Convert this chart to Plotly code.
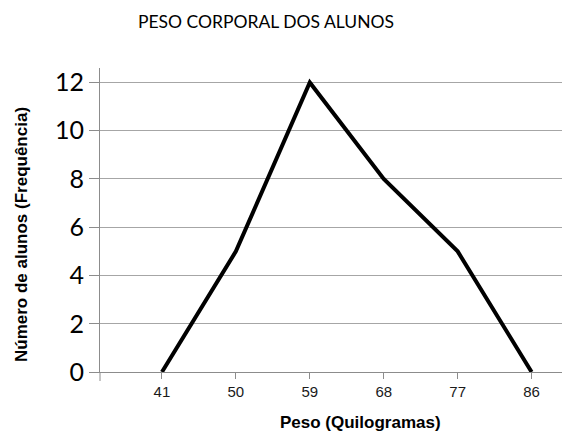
import plotly.graph_objects as go

pesos = [41, 50, 59, 68, 77, 86]
frequencias = [0, 5, 12, 8, 5, 0]
y_ticks = [0, 2, 4, 6, 8, 10, 12]
titulo = "PESO CORPORAL DOS ALUNOS"
titulo_x = "Peso (Quilogramas)"
titulo_y = "Número de alunos (Frequência)"

W, H = 563, 431
ml, mr, mt, mb = 100, 1, 68, 59
PW, PH = W - ml - mr, H - mt - mb

fig = go.Figure()
fig.add_trace(go.Scatter(x=pesos, y=frequencias, mode="lines",
                         line=dict(color="black", width=4), showlegend=False,
                         cliponaxis=False))

fig.update_layout(
    width=W, height=H,
    margin=dict(l=ml, r=mr, t=mt, b=mb),
    paper_bgcolor="white", plot_bgcolor="white",
    font=dict(family="Liberation Sans, Arial", color="black"),
)
fig.update_xaxes(
    range=[33.46, 89.7], tickvals=pesos, ticktext=[str(p) for p in pesos],
    showgrid=False, zeroline=False, showline=True, linecolor="#8c8c8c", linewidth=1,
    ticks="outside", ticklen=6, tickcolor="#8c8c8c",
    tickfont=dict(family="Liberation Sans, Arial", size=15, color="#1a1a1a"),
)
fig.update_yaxes(
    range=[0, 12.6], tickvals=y_ticks,
    showgrid=True, gridcolor="#a6a6a6", gridwidth=1, zeroline=False,
    showline=True, linecolor="#8c8c8c", linewidth=1,
    ticks="outside", ticklen=10, tickcolor="#8c8c8c",
    tickfont=dict(family="Lato, Open Sans", size=25, color="black"),
)
# y axis line extending slightly below the x axis
fig.add_shape(type="line", xref="paper", yref="paper", x0=0, x1=0,
              y0=0, y1=-9 / PH, line=dict(color="#8c8c8c", width=1))
fig.add_annotation(text=titulo, xref="paper", yref="paper",
                   x=(266 - ml) / PW, y=1 + (mt - 22) / PH,
                   xanchor="center", yanchor="middle",
                   showarrow=False, font=dict(family="Lato", size=17.5, color="black"))
fig.add_annotation(text="<b>" + titulo_x + "</b>", xref="paper", yref="paper",
                   x=(360 - ml) / PW, y=-(422 - (H - mb)) / PH,
                   xanchor="center", yanchor="middle",
                   showarrow=False, font=dict(family="Liberation Sans, Arial", size=17, color="black"))
fig.add_annotation(text="<b>" + titulo_y + "</b>", xref="paper", yref="paper",
                   x=-(ml - 21) / PW, y=(H - mb - 235) / PH,
                   xanchor="center", yanchor="middle",
                   textangle=-90, showarrow=False,
                   font=dict(family="Liberation Sans, Arial", size=17, color="black"))

fig.write_html("out.html", post_script="document.body.style.margin='0';",
               config={"displayModeBar": False})
